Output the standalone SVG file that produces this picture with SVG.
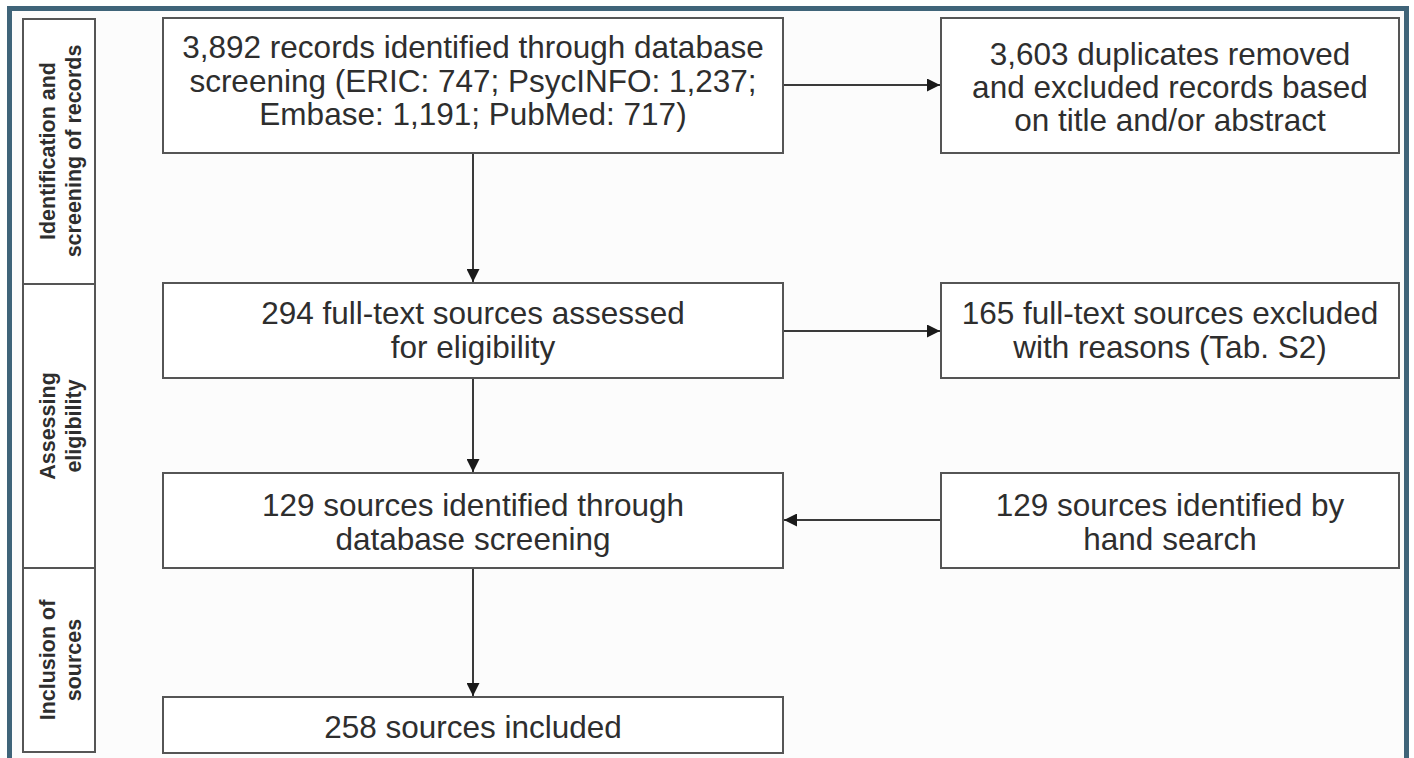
<svg xmlns="http://www.w3.org/2000/svg" width="1414" height="758" viewBox="0 0 1414 758">
<style>
.box{fill:#ffffff;stroke:#555555;stroke-width:2}
.side{fill:#ffffff;stroke:#555555;stroke-width:2}
.t{font-family:"Liberation Sans",Arial,sans-serif;font-size:31.5px;fill:#2e2e2e;text-anchor:middle}
.s{font-family:"Liberation Sans",Arial,sans-serif;font-size:21.5px;font-weight:bold;fill:#2e2e2e;text-anchor:middle}
.c{fill:none;stroke:#3a3a3a;stroke-width:2}
</style>
<defs>
<marker id="ah" viewBox="0 0 10 10" refX="10" refY="5" markerWidth="6.5" markerHeight="6.5" markerUnits="strokeWidth" orient="auto">
<path d="M0,0 L10,5 L0,10 z" fill="#1a1a1a"/>
</marker>
</defs>
<rect x="0" y="0" width="1414" height="758" fill="#ffffff"/>
<rect id="frame" x="9.5" y="8.5" width="1397" height="800" fill="#fcfcfc" stroke="#3f6479" stroke-width="5"/>

<g id="lane-identification">
<rect class="side" x="23" y="19" width="72" height="265"/>
<text class="s" transform="translate(55,151) rotate(-90)">Identification and</text>
<text class="s" transform="translate(81,151) rotate(-90)">screening of records</text>
</g>
<g id="lane-eligibility">
<rect class="side" x="23" y="284" width="72" height="284"/>
<text class="s" transform="translate(55,426) rotate(-90)">Assessing</text>
<text class="s" transform="translate(81,426) rotate(-90)">eligibility</text>
</g>
<g id="lane-inclusion">
<rect class="side" x="23" y="568" width="72" height="184"/>
<text class="s" transform="translate(55,660) rotate(-90)">Inclusion of</text>
<text class="s" transform="translate(81,660) rotate(-90)">sources</text>
</g>

<g id="connectors">
<line class="c" x1="783" y1="85" x2="940" y2="85" marker-end="url(#ah)"/>
<line class="c" x1="473" y1="153" x2="473" y2="282" marker-end="url(#ah)"/>
<line class="c" x1="783" y1="331" x2="940" y2="331" marker-end="url(#ah)"/>
<line class="c" x1="473" y1="378" x2="473" y2="472" marker-end="url(#ah)"/>
<line class="c" x1="941" y1="520" x2="784" y2="520" marker-end="url(#ah)"/>
<line class="c" x1="473" y1="568" x2="473" y2="696" marker-end="url(#ah)"/>
</g>

<g id="n-records">
<rect class="box" x="163" y="18" width="620" height="135"/>
<text class="t" x="473" y="58">3,892 records identified through database</text>
<text class="t" x="473" y="91.5">screening (ERIC: 747; PsycINFO: 1,237;</text>
<text class="t" x="473" y="125">Embase: 1,191; PubMed: 717)</text>
</g>
<g id="n-duplicates">
<rect class="box" x="941" y="18" width="458" height="135"/>
<text class="t" x="1170" y="65">3,603 duplicates removed</text>
<text class="t" x="1170" y="98">and excluded records based</text>
<text class="t" x="1170" y="131">on title and/or abstract</text>
</g>
<g id="n-fulltext">
<rect class="box" x="163" y="283" width="620" height="95"/>
<text class="t" x="473" y="324">294 full-text sources assessed</text>
<text class="t" x="473" y="358">for eligibility</text>
</g>
<g id="n-excluded">
<rect class="box" x="941" y="283" width="458" height="95"/>
<text class="t" x="1170" y="324">165 full-text sources excluded</text>
<text class="t" x="1170" y="358">with reasons (Tab. S2)</text>
</g>
<g id="n-db">
<rect class="box" x="163" y="473" width="620" height="95"/>
<text class="t" x="473" y="516">129 sources identified through</text>
<text class="t" x="473" y="550">database screening</text>
</g>
<g id="n-hand">
<rect class="box" x="941" y="473" width="458" height="95"/>
<text class="t" x="1170" y="516">129 sources identified by</text>
<text class="t" x="1170" y="550">hand search</text>
</g>
<g id="n-included">
<rect class="box" x="163" y="697" width="620" height="56"/>
<text class="t" x="473" y="738">258 sources included</text>
</g>
</svg>
